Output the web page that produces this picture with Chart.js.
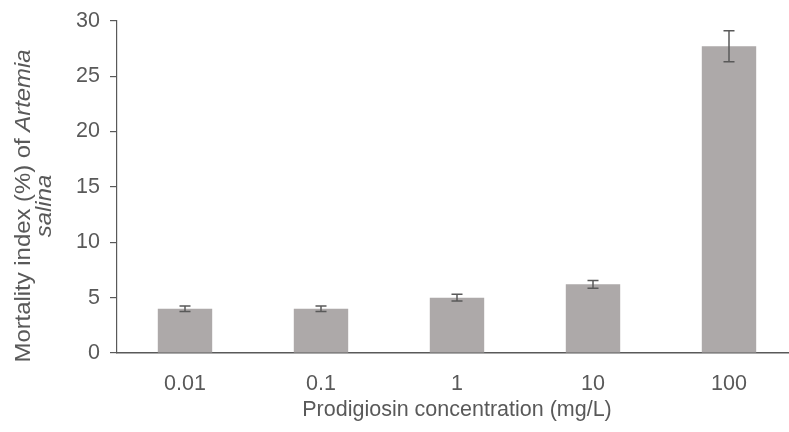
<!DOCTYPE html>
<html>
<head>
<meta charset="utf-8">
<script src="https://cdn.jsdelivr.net/npm/chart.js@4/dist/chart.umd.min.js"></script>
<style>
  html, body { margin: 0; padding: 0; background: #fff; overflow: hidden; }
  #wrap { width: 800px; height: 432px; position: relative; }
</style>
</head>
<body>
<div id="wrap"><canvas id="c" width="800" height="432"></canvas></div>
<script>
const categories = ['0.01', '0.1', '1', '10', '100'];
const mortality = [4.0, 4.0, 5.0, 6.2, 27.7];
const errors = [0.25, 0.25, 0.3, 0.35, 1.4];
const yTicks = [0, 5, 10, 15, 20, 25, 30];

const TEXT = '#595959';
const FONT = 'Liberation Sans, Arial, sans-serif';
const FS = 21.5;

const errorBars = {
  id: 'errorBars',
  afterDatasetsDraw(chart) {
    const ctx = chart.ctx;
    const meta = chart.getDatasetMeta(0);
    const y = chart.scales.y;
    ctx.save();
    ctx.strokeStyle = '#595959';
    ctx.lineWidth = 1.5;
    meta.data.forEach((bar, i) => {
      const x = bar.x;
      const t = y.getPixelForValue(mortality[i] + errors[i]);
      const b = y.getPixelForValue(mortality[i] - errors[i]);
      ctx.beginPath();
      ctx.moveTo(x, t); ctx.lineTo(x, b);
      ctx.moveTo(x - 5.5, t); ctx.lineTo(x + 5.5, t);
      ctx.moveTo(x - 5.5, b); ctx.lineTo(x + 5.5, b);
      ctx.stroke();
    });
    ctx.restore();
  }
};

const titles = {
  id: 'titles',
  afterDraw(chart) {
    const ctx = chart.ctx;
    const a = chart.chartArea;
    ctx.save();
    ctx.fillStyle = TEXT;
    // x title
    ctx.font = FS + 'px ' + FONT;
    ctx.textAlign = 'center';
    ctx.textBaseline = 'middle';
    ctx.fillText('Prodigiosin concentration (mg/L)', (a.left + a.right) / 2, 410);
    // y title (rotated, mixed styles, stretched along its length)
    const normal = FS + 'px ' + FONT;
    const italic = 'italic ' + FS + 'px ' + FONT;
    const p1 = 'Mortality index (%) of ';
    const p2 = 'Artemia';
    ctx.font = normal; const w1 = ctx.measureText(p1).width;
    ctx.font = italic; const w2 = ctx.measureText(p2).width;
    const stretch = 313 / (w1 + w2);
    ctx.translate(24, 206);
    ctx.rotate(-Math.PI / 2);
    ctx.scale(stretch, 1);
    const start = -(w1 + w2) / 2;
    ctx.textAlign = 'left';
    ctx.font = normal; ctx.fillText(p1, start, 0);
    ctx.font = italic; ctx.fillText(p2, start + w1, 0);
    ctx.textAlign = 'center';
    ctx.fillText('salina', 0, 21);
    ctx.restore();
  }
};

new Chart(document.getElementById('c'), {
  type: 'bar',
  data: {
    labels: categories,
    datasets: [{
      data: mortality,
      backgroundColor: '#ADA9A9',
      borderWidth: 0,
      barPercentage: 0.4,
      categoryPercentage: 1.0
    }]
  },
  options: {
    responsive: false,
    animation: false,
    events: [],
    layout: { padding: { top: 20, right: 3, left: 0, bottom: 0 } },
    plugins: { legend: { display: false }, tooltip: { enabled: false } },
    scales: {
      x: {
        offset: true,
        grid: { display: false, drawTicks: false },
        border: { display: true, color: '#595959', width: 1.5 },
        ticks: { color: TEXT, font: { family: FONT, size: FS }, padding: 18, maxRotation: 0 },
        afterFit(s) { s.height = 79; }
      },
      y: {
        min: 0, max: 30,
        afterBuildTicks(s) { s.ticks = yTicks.map(v => ({ value: v })); },
        grid: { display: true, drawOnChartArea: false, drawTicks: true, tickLength: 7, color: '#595959', lineWidth: 1.2 },
        border: { display: true, color: '#595959', width: 1.2 },
        ticks: { color: TEXT, font: { family: FONT, size: FS, lineHeight: 1 }, padding: 10 },
        afterFit(s) { s.width = 117; }
      }
    }
  },
  plugins: [errorBars, titles]
});
</script>
</body>
</html>
